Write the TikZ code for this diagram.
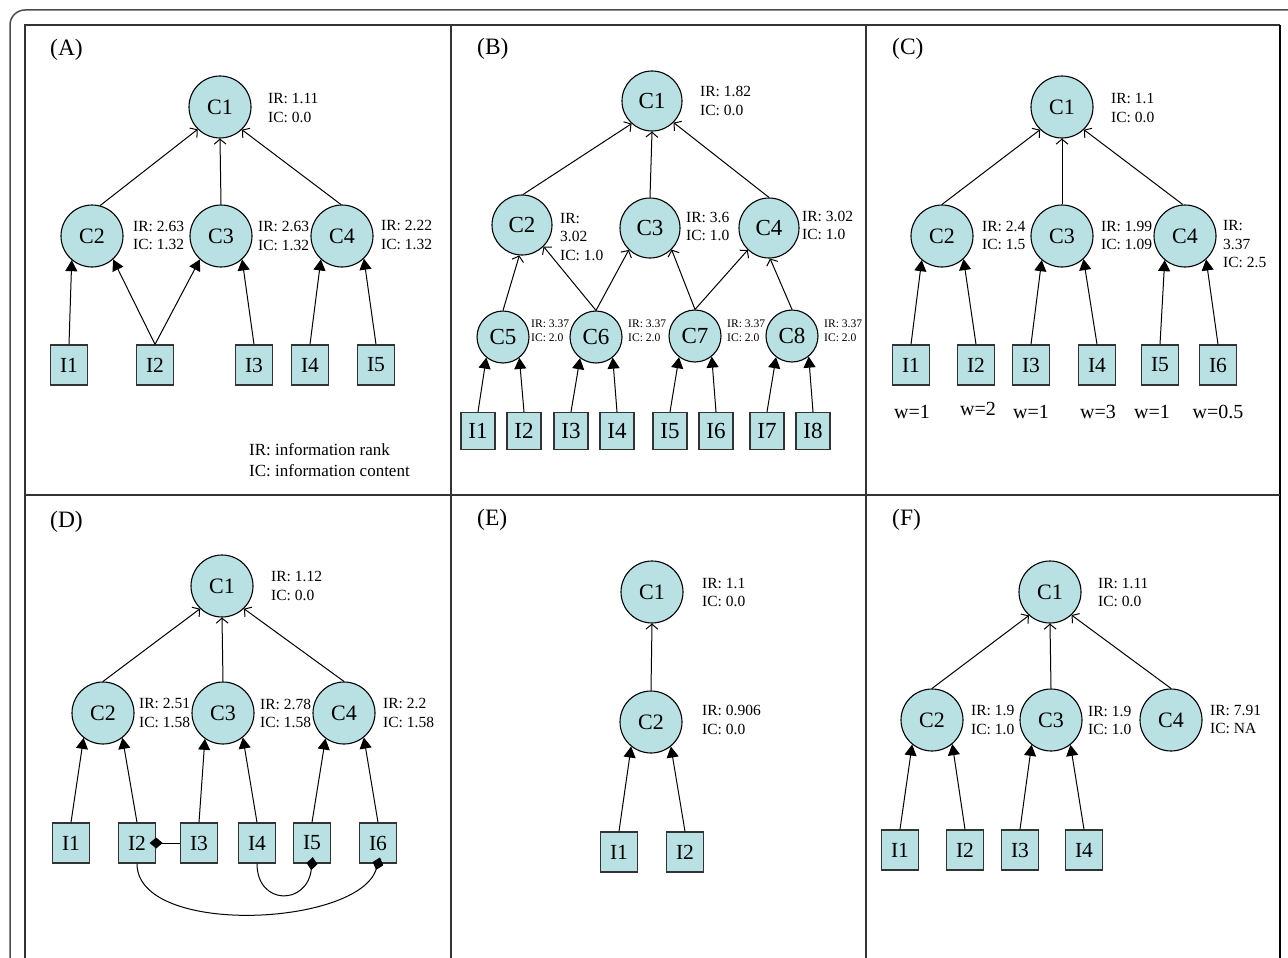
\documentclass[tikz,border=0pt]{standalone}
\usepackage{fontspec}
\setmainfont{Liberation Serif}
\usetikzlibrary{arrows.meta}
\definecolor{nodefill}{HTML}{B9E0E3}
\tikzset{
 cn/.style={circle, draw=black, line width=1.1pt, fill=nodefill, minimum size=62pt, inner sep=0pt, font=\fontsize{22}{26}\selectfont},
 cnb/.style={cn, minimum size=60pt, font=\fontsize{23}{26}\selectfont},
 cns/.style={cn, minimum size=52pt, font=\fontsize{23}{26}\selectfont},
 bx/.style={rectangle, draw=black!80, line width=1.3pt, fill=nodefill, minimum width=37pt, minimum height=40pt, inner sep=0pt, font=\fontsize{21.5}{26}\selectfont},
 bxb/.style={bx, minimum width=34pt, minimum height=37pt, font=\fontsize{23}{26}\selectfont},
 lbl/.style={anchor=west, align=left, inner sep=0pt, font=\fontsize{15.5}{18.5}\selectfont},
 lblb/.style={lbl, font=\fontsize{15.5}{18.5}\selectfont},
 lbls/.style={lbl, font=\fontsize{11.6}{14}\selectfont},
 legend/.style={lbl, font=\fontsize{17}{21}\selectfont},
 panel/.style={anchor=west, inner sep=0pt, font=\fontsize{23.5}{27}\selectfont},
 wlbl/.style={inner sep=0pt, font=\fontsize{20}{23}\selectfont},
 arrowC/.style={draw, line width=1pt, -{Straight Barb[length=5pt,width=12pt]}},
 arrowI/.style={draw, line width=1pt, -{Triangle[length=11pt,width=12pt]}},
 dia/.style={draw, line width=1pt, -{Diamond[length=13pt,width=11pt]}, shorten >=-6.5pt},
}
\begin{document}
\begin{tikzpicture}[x=1pt,y=-1pt]
\useasboundingbox (0,0) rectangle (1288,958);
\clip (0,0) rectangle (1288,958);
\fill[white] (0,0) rectangle (1288,958);
% frame
\draw[black!70, line width=1.5pt, rounded corners=15pt] (1300,10) -- (10,10) -- (10,980);
\draw[black!80, line width=1.5pt] (25,980) -- (25,25) -- (1280,25);
\draw[black, line width=2pt] (1280,25) -- (1280,980);
\draw[black!80, line width=1.5pt] (451,25) -- (451,980);
\draw[black!80, line width=1.5pt] (866,25) -- (866,980);
\draw[black!80, line width=1.5pt] (25,495) -- (1280,495);

% ---------------- Panel A
\node[panel] (pA) at (50,50) {(A)};
\node[cn] (a1) at (220,107) {C1};
\node[cn] (a2) at (92,236) {C2};
\node[cn] (a3) at (221,236) {C3};
\node[cn] (a4) at (342,236) {C4};
\node[bx] (ai1) at (69,365) {I1};
\node[bx] (ai2) at (155,365) {I2};
\node[bx] (ai3) at (254,365) {I3};
\node[bx] (ai4) at (310,365) {I4};
\node[bx] (ai5) at (376,365) {I5};
\node[lbl] (la1) at (268,108) {IR: 1.11\\IC: 0.0};
\node[lbl] (la2) at (133,235.5) {IR: 2.63\\IC: 1.32};
\node[lbl] (la3) at (258,236) {IR: 2.63\\IC: 1.32};
\node[lbl] (la4) at (381,235) {IR: 2.22\\IC: 1.32};
\node[legend] (lega) at (249,460.5) {IR: information rank\\IC: information content};
\draw[arrowC] (a2.75) -- (a1.225);
\draw[arrowC] (a3.north) -- (a1.south);
\draw[arrowC] (a4.92) -- (a1.314);
\draw[arrowI] (ai1.north) -- (a2.230);
\draw[arrowI] (ai2.north) -- (a2.312);
\draw[arrowI] (ai2.north) -- (a3.228);
\draw[arrowI] (ai3.north) -- (a3.312);
\draw[arrowI] (ai4.north) -- (a4.228);
\draw[arrowI] (ai5.north) -- (a4.314);

% ---------------- Panel B
\node[panel] (pB) at (477,49) {(B)};
\node[cnb] (b1) at (652,101) {C1};
\node[cnb] (b2) at (522,225) {C2};
\node[cnb] (b3) at (650,228) {C3};
\node[cnb] (b4) at (769,228) {C4};
\node[cns] (b5) at (503,337) {C5};
\node[cns] (b6) at (596,337) {C6};
\node[cns] (b7) at (695,336) {C7};
\node[cns] (b8) at (792,336) {C8};
\node[bxb] (bi1) at (478,431) {I1};
\node[bxb] (bi2) at (524,431) {I2};
\node[bxb] (bi3) at (571,431) {I3};
\node[bxb] (bi4) at (617,431) {I4};
\node[bxb] (bi5) at (670,431) {I5};
\node[bxb] (bi6) at (716,431) {I6};
\node[bxb] (bi7) at (767,431) {I7};
\node[bxb] (bi8) at (813,431) {I8};
\node[lblb] (lb1) at (700,101) {IR: 1.82\\IC: 0.0};
\node[lblb] (lb2) at (560,237) {IR:\\3.02\\IC: 1.0};
\node[lblb] (lb3) at (686,226.5) {IR: 3.6\\IC: 1.0};
\node[lblb] (lb4) at (802,225.5) {IR: 3.02\\IC: 1.0};
\node[lbls] (lb5) at (531,331) {IR: 3.37\\IC: 2.0};
\node[lbls] (lb6) at (628,331) {IR: 3.37\\IC: 2.0};
\node[lbls] (lb7) at (727,331) {IR: 3.37\\IC: 2.0};
\node[lbls] (lb8) at (824,331) {IR: 3.37\\IC: 2.0};
\draw[arrowC] (b2.88) -- (b1.228);
\draw[arrowC] (b3.north) -- (b1.south);
\draw[arrowC] (b4.north) -- (b1.315);
\draw[arrowC] (b5.north) -- (b2.265);
\draw[arrowC] (b6.north) -- (b2.315);
\draw[arrowC] (b6.north) -- (b3.226);
\draw[arrowC] (b7.north) -- (b3.315);
\draw[arrowC] (b7.north) -- (b4.226);
\draw[arrowC] (b8.north) -- (b4.272);
\draw[arrowI] (bi1.north) -- (b5.231);
\draw[arrowI] (bi2.north) -- (b5.308);
\draw[arrowI] (bi3.north) -- (b6.233);
\draw[arrowI] (bi4.north) -- (b6.309);
\draw[arrowI] (bi5.north) -- (b7.233);
\draw[arrowI] (bi6.north) -- (b7.309);
\draw[arrowI] (bi7.north) -- (b8.233);
\draw[arrowI] (bi8.north) -- (b8.309);

% ---------------- Panel C
\node[panel] (pC) at (892,49) {(C)};
\node[cn] (c1) at (1062,107) {C1};
\node[cn] (c2) at (942,236) {C2};
\node[cn] (c3) at (1062,236) {C3};
\node[cn] (c4) at (1185,236) {C4};
\node[bx] (ci1) at (911,365) {I1};
\node[bx] (ci2) at (976,365) {I2};
\node[bx] (ci3) at (1031,365) {I3};
\node[bx] (ci4) at (1097,365) {I4};
\node[bx] (ci5) at (1160,365) {I5};
\node[bx] (ci6) at (1218,365) {I6};
\node[lbl] (lc1) at (1111,108) {IR: 1.1\\IC: 0.0};
\node[lbl] (lc2) at (982,235.5) {IR: 2.4\\IC: 1.5};
\node[lbl] (lc3) at (1101,235.5) {IR: 1.99\\IC: 1.09};
\node[lbl] (lc4) at (1223,244.5) {IR:\\3.37\\IC: 2.5};
\node[wlbl] (w1) at (912,412) {w=1};
\node[wlbl] (w2) at (978,409) {w=2};
\node[wlbl] (w3) at (1031,412) {w=1};
\node[wlbl] (w4) at (1098,412) {w=3};
\node[wlbl] (w5) at (1152,412) {w=1};
\node[wlbl] (w6) at (1218,412) {w=0.5};
\draw[arrowC] (c2.north) -- (c1.226);
\draw[arrowC] (c3.north) -- (c1.south);
\draw[arrowC] (c4.94) -- (c1.314);
\draw[arrowI] (ci1.north) -- (c2.230);
\draw[arrowI] (ci2.north) -- (c2.313);
\draw[arrowI] (ci3.north) -- (c3.230);
\draw[arrowI] (ci4.north) -- (c3.313);
\draw[arrowI] (ci5.north) -- (c4.230);
\draw[arrowI] (ci6.north) -- (c4.312);

% ---------------- Panel D
\node[panel] (pD) at (50,522) {(D)};
\node[cn] (d1) at (222,586) {C1};
\node[cn] (d2) at (103,713) {C2};
\node[cn] (d3) at (223,713) {C3};
\node[cn] (d4) at (344,713) {C4};
\node[bx] (di1) at (71,843) {I1};
\node[bx] (di2) at (137,843) {I2};
\node[bx] (di3) at (199,843) {I3};
\node[bx] (di4) at (257,843) {I4};
\node[bx] (di5) at (312,843) {I5};
\node[bx] (di6) at (378,843) {I6};
\node[lbl] (ld1) at (271,586) {IR: 1.12\\IC: 0.0};
\node[lbl] (ld2) at (139,713) {IR: 2.51\\IC: 1.58};
\node[lbl] (ld3) at (260,713.5) {IR: 2.78\\IC: 1.58};
\node[lbl] (ld4) at (383,713) {IR: 2.2\\IC: 1.58};
\draw[arrowC] (d2.north) -- (d1.226);
\draw[arrowC] (d3.north) -- (d1.south);
\draw[arrowC] (d4.north) -- (d1.314);
\draw[arrowI] (di1.north) -- (d2.232);
\draw[arrowI] (di2.north) -- (d2.308);
\draw[arrowI] (di3.north) -- (d3.235);
\draw[arrowI] (di4.north) -- (d3.309);
\draw[arrowI] (di5.north) -- (d4.234);
\draw[arrowI] (di6.north) -- (d4.309);
\draw[dia] (di3.west) -- (di2.east);
\draw[dia] (di4.south) .. controls +(0,42) and +(-5,42) .. (di5.south);
\draw[dia] (di2.south) .. controls +(0,73) and +(-20,63) .. (di6.south);

% ---------------- Panel E
\node[panel] (pE) at (477,520) {(E)};
\node[cn] (e1) at (652,592) {C1};
\node[cn] (e2) at (651,722) {C2};
\node[bx] (ei1) at (619,852) {I1};
\node[bx] (ei2) at (685,852) {I2};
\node[lbl] (le1) at (702,592.5) {IR: 1.1\\IC: 0.0};
\node[lbl] (le2) at (702,720) {IR: 0.906\\IC: 0.0};
\draw[arrowC] (e2.north) -- (e1.south);
\draw[arrowI] (ei1.north) -- (e2.231);
\draw[arrowI] (ei2.north) -- (e2.309);

% ---------------- Panel F
\node[panel] (pF) at (892,520) {(F)};
\node[cn] (f1) at (1050,592) {C1};
\node[cn] (f2) at (932,720) {C2};
\node[cn] (f3) at (1051,720) {C3};
\node[cn] (f4) at (1171,720) {C4};
\node[bx] (fi1) at (900,850) {I1};
\node[bx] (fi2) at (965,850) {I2};
\node[bx] (fi3) at (1020,850) {I3};
\node[bx] (fi4) at (1084,850) {I4};
\node[lbl] (lf1) at (1098,592.5) {IR: 1.11\\IC: 0.0};
\node[lbl] (lf2) at (971,720) {IR: 1.9\\IC: 1.0};
\node[lbl] (lf3) at (1088,720.5) {IR: 1.9\\IC: 1.0};
\node[lbl] (lf4) at (1210,719.5) {IR: 7.91\\IC: NA};
\draw[arrowC] (f2.north) -- (f1.228);
\draw[arrowC] (f3.north) -- (f1.south);
\draw[arrowC] (f4.north) -- (f1.313);
\draw[arrowI] (fi1.north) -- (f2.231);
\draw[arrowI] (fi2.north) -- (f2.310);
\draw[arrowI] (fi3.north) -- (f3.232);
\draw[arrowI] (fi4.north) -- (f3.308);
\end{tikzpicture}
\end{document}
